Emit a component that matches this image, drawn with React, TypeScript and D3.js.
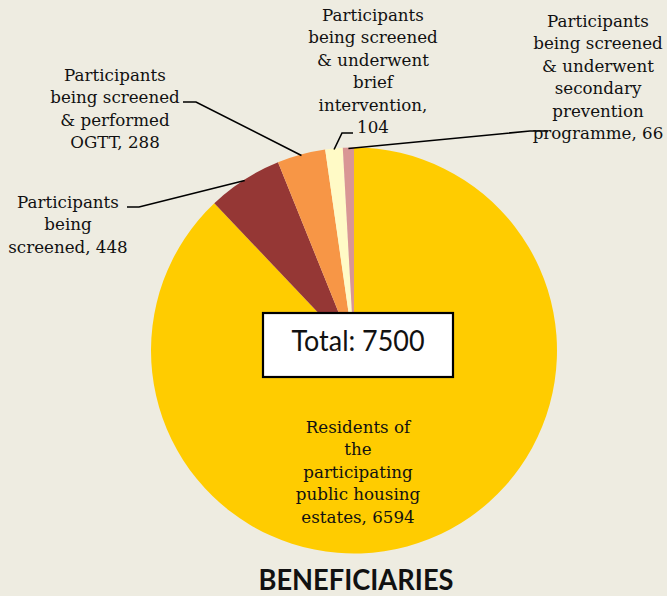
import React, { useEffect } from 'react'
import * as d3 from 'd3'

// slices, clockwise from 12 o'clock
const categories = [
  'Residents of the participating public housing estates',
  'Participants being screened',
  'Participants being screened & performed OGTT',
  'Participants being screened & underwent brief intervention',
  'Participants being screened & underwent secondary prevention programme',
]
const values = [6594, 448, 288, 104, 66]
const colors = ['#FFCC00', '#953735', '#F79646', '#FFFAC6', '#D99694']

// label text, {v} gets replaced by the slice value
const labelLines = [
  ['Residents of', 'the', 'participating', 'public housing', 'estates, {v}'],
  ['Participants', 'being', 'screened, {v}'],
  ['Participants', 'being screened', '& performed', 'OGTT, {v}'],
  ['Participants', 'being screened', '& underwent', 'brief', 'intervention,', '{v}'],
  ['Participants', 'being screened', '& underwent', 'secondary', 'prevention', 'programme, {v}'],
]

const title = 'BENEFICIARIES'

// where labels sit and where their leader lines bend
const labelLayout = [
  { x: 358, y: 428, elbow: null },
  { x: 68, y: 203, elbow: [[127, 207], [139, 207]] },
  { x: 115, y: 76, elbow: [[183, 102], [196, 102]] },
  { x: 373, y: 16, elbow: [[353, 133], [342, 133]] },
  { x: 598, y: 22, elbow: [[548, 131], [530, 131]] },
]

const W = 667
const H = 596
const cx = 354
const cy = 350.5
const r = 203
const lineGap = 22.5
const labelFont = '"DejaVu Serif", serif'

const App = () => {
  useEffect(() => {
    document.body.style.margin = '0'
  }, [])

  const total = d3.sum(values)
  const pie = d3.pie<number>().sort(null).value((d) => d)
  const arcs = pie(values)
  const arc = d3.arc<d3.PieArcDatum<number>>().innerRadius(0).outerRadius(r)
  const edge = d3.arc<d3.PieArcDatum<number>>().innerRadius(r - 1).outerRadius(r - 1)

  return (
    <svg width={W} height={H} style={{ display: 'block', background: '#EEECE1' }}>
      <g transform={`translate(${cx},${cy})`}>
        {arcs.map((a, i) => (
          <path key={categories[i]} d={arc(a) || ''} fill={colors[i]} />
        ))}
      </g>

      {/* leader lines */}
      {arcs.map((a, i) => {
        const el = labelLayout[i].elbow
        if (!el) return null
        const [ex, ey] = edge.centroid(a)
        const pts: [number, number][] = [...(el as [number, number][]), [cx + ex, cy + ey]]
        return (
          <path
            key={'leader' + i}
            d={d3.line()(pts) || ''}
            fill="none"
            stroke="#000"
            strokeWidth={1.6}
          />
        )
      })}

      {/* labels */}
      {labelLines.map((lines, i) => (
        <text
          key={'lbl' + i}
          x={labelLayout[i].x}
          y={labelLayout[i].y}
          textAnchor="middle"
          fontFamily={labelFont}
          fontSize={16.7}
          fill="#111"
        >
          {lines.map((ln, j) => (
            <tspan key={j} x={labelLayout[i].x} y={labelLayout[i].y + j * lineGap} dy="0.28em">
              {ln.replace('{v}', String(values[i]))}
            </tspan>
          ))}
        </text>
      ))}

      {/* total box */}
      <rect x={263} y={313} width={190} height={64} fill="#fff" stroke="#000" strokeWidth={2.2} />
      <text
        x={358}
        y={341}
        dy="0.36em"
        textAnchor="middle"
        fontFamily="Lato, sans-serif"
        fontSize={28}
        textLength={133}
        lengthAdjust="spacingAndGlyphs"
        fill="#111"
      >
        {`Total: ${total}`}
      </text>

      <text
        x={356}
        y={590}
        textAnchor="middle"
        fontFamily="Lato, sans-serif"
        fontWeight={700}
        fontSize={28}
        textLength={195}
        lengthAdjust="spacingAndGlyphs"
        fill="#111"
      >
        {title}
      </text>
    </svg>
  )
}

export default App
